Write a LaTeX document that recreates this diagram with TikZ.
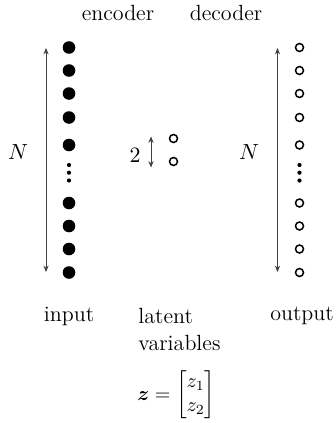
\documentclass[tikz,border=0pt]{standalone}
\usepackage{amsmath}
\usetikzlibrary{arrows.meta}
\begin{document}
\begin{tikzpicture}[x=0.5pt,y=-0.5pt,
  font=\fontsize{11}{13}\selectfont,
  full/.style={circle,fill=black,inner sep=0pt,minimum size=6.3pt},
  hollow/.style={circle,draw=black,line width=0.75pt,inner sep=0pt,minimum size=4pt},
  small/.style={circle,fill=black,inner sep=0pt,minimum size=2.1pt},
  dimarrow/.style={draw=black!75,line width=0.45pt,
    {Stealth[length=3.2pt,width=2.6pt]}-{Stealth[length=3.2pt,width=2.6pt]}},
  lbl/.style={inner sep=0pt}]
\useasboundingbox (0,0) rectangle (336,423);

% column headings
\node[lbl] (enc) at (118,13) {encoder};
\node[lbl] (dec) at (226,13) {decoder};

% input layer (filled) and output layer (hollow)
\foreach \i/\y in {1/47.5,2/70.5,3/93.5,4/117.5,5/145,6/203,7/226,8/249,9/272.5} {
  \node[full] (in\i) at (69,\y) {};
  \node[hollow] (out\i) at (299.5,\y) {};
}
\foreach \i/\y in {1/165,2/172.7,3/180.5} {
  \node[small] (ind\i) at (69,\y) {};
  \node[small] (outd\i) at (299.5,\y) {};
}

% size markers
\coordinate (lt) at (46,48);
\coordinate (lb) at (46,272);
\draw[dimarrow] (lt) -- (lb);
\node[lbl] (nl) at (18,152) {$N$};

\coordinate (rt) at (277.5,48);
\coordinate (rb) at (277.5,272);
\draw[dimarrow] (rt) -- (rb);
\node[lbl] (nr) at (249,152) {$N$};

% latent layer
\node[hollow] (z1) at (173.5,138.5) {};
\node[hollow] (z2) at (173.5,161.5) {};
\coordinate (mt) at (151,136.5);
\coordinate (mb) at (151,167.5);
\draw[dimarrow] (mt) -- (mb);
\node[lbl] (two) at (135,155) {$2$};

% captions
\node[lbl] (inp) at (69,316) {input};
\node[lbl,anchor=west] (lat) at (138,316) {latent};
\node[lbl,anchor=west] (var) at (138,343) {variables};
\node[lbl] (outp) at (302,316) {output};
\node[lbl,anchor=west,font=\fontsize{10}{12}\selectfont] (eq) at (137,395)
  {$\boldsymbol{z}=\begin{bmatrix} z_1\\ z_2\end{bmatrix}$};
\end{tikzpicture}
\end{document}
